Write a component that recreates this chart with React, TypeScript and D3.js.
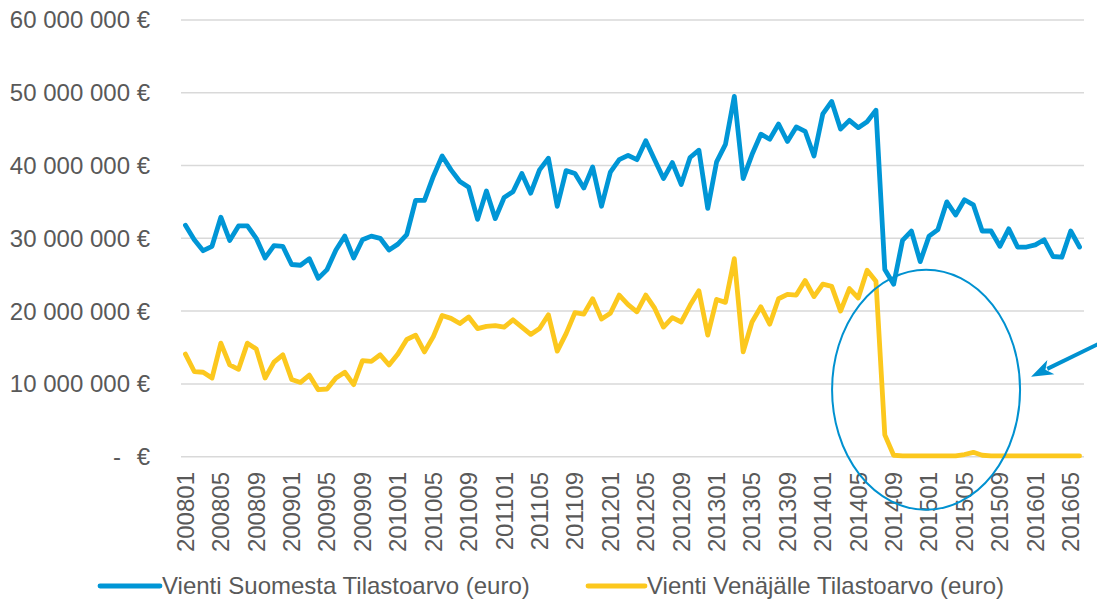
import { useEffect, useRef } from 'react';
import * as d3 from 'd3';

// months 200801 .. 201606
const months: string[] = [];
for (let yr = 2008; yr <= 2016; yr++) {
    for (let m = 1; m <= 12; m++) {
        if (yr === 2016 && m > 6) break;
        months.push(yr + (m < 10 ? "0" : "") + m);
    }
}

// values in millions of euros
const suomesta_millions = [
    31.8, 29.8, 28.3, 28.9, 32.9, 29.7, 31.7, 31.7, 30.0, 27.3, 29.0, 28.9,
    26.4, 26.3, 27.2, 24.5, 25.7, 28.4, 30.3, 27.3, 29.8, 30.3, 30.0, 28.4,
    29.2, 30.5, 35.2, 35.2, 38.5, 41.3, 39.4, 37.8, 37.0, 32.6, 36.5, 32.7,
    35.6, 36.4, 38.9, 36.2, 39.4, 41.0, 34.4, 39.3, 38.9, 36.9, 39.8, 34.4,
    39.1, 40.8, 41.4, 40.8, 43.4, 40.8, 38.2, 40.4, 37.4, 41.1, 42.1, 34.1,
    40.5, 42.9, 49.5, 38.2, 41.5, 44.3, 43.6, 45.7, 43.3, 45.3, 44.7, 41.3,
    47.1, 48.8, 45.0, 46.2, 45.2, 46.0, 47.6, 25.7, 23.7, 29.7, 31.0, 26.8,
    30.3, 31.2, 35.0, 33.2, 35.3, 34.6, 31.0, 31.0, 28.9, 31.3, 28.8, 28.8,
    29.1, 29.8, 27.5, 27.4, 31.0, 28.8
];

const venajalle_millions = [
    14.1, 11.7, 11.6, 10.8, 15.6, 12.6, 12.0, 15.6, 14.8, 10.8, 13.0, 14.0,
    10.6, 10.2, 11.2, 9.2, 9.3, 10.8, 11.6, 9.9, 13.2, 13.1, 14.0, 12.6,
    14.1, 16.1, 16.7, 14.4, 16.5, 19.4, 19.0, 18.3, 19.2, 17.6, 17.9, 18.0,
    17.8, 18.8, 17.8, 16.8, 17.6, 19.5, 14.5, 16.9, 19.8, 19.6, 21.7, 18.9,
    19.7, 22.2, 20.9, 19.9, 22.2, 20.4, 17.8, 19.1, 18.5, 20.8, 22.8, 16.7,
    21.6, 21.2, 27.2, 14.4, 18.5, 20.6, 18.2, 21.7, 22.3, 22.2, 24.2, 22.0,
    23.7, 23.4, 20.0, 23.1, 21.8, 25.6, 24.1, 3.0, 0.2, 0.1, 0.1, 0.1,
    0.1, 0.1, 0.1, 0.1, 0.3, 0.6, 0.2, 0.1, 0.1, 0.1, 0.1, 0.1,
    0.1, 0.1, 0.1, 0.1, 0.1, 0.1
];

const y_ticks = [0, 10e6, 20e6, 30e6, 40e6, 50e6, 60e6];
const series_names = ["Vienti Suomesta Tilastoarvo (euro)", "Vienti Venäjälle Tilastoarvo (euro)"];
const series_colors = ["#0096D6", "#FCC81E"];

export default function App() {
    const ref = useRef<SVGSVGElement>(null);

    useEffect(() => {
        const font = "'Liberation Sans', Arial, sans-serif";
        const text_color = "#595959";
        const font_size = 24;

        const svg = d3.select(ref.current);
        svg.selectAll("*").remove();

        // scales
        const x_scale = d3.scaleBand<string>()
            .domain(months)
            .range([181, 1084])
            .padding(0);
        const xc = (m: string) => (x_scale(m) as number) + x_scale.bandwidth() / 2;

        const y_scale = d3.scaleLinear()
            .domain([0, 60e6])
            .range([456.7, 19.9]);

        // gridlines
        svg.append("g")
            .selectAll("line")
            .data(y_ticks).enter()
            .append("line")
            .attr("x1", 181)
            .attr("x2", 1084)
            .attr("y1", d => y_scale(d))
            .attr("y2", d => y_scale(d))
            .attr("stroke", "#D9D9D9")
            .attr("stroke-width", 1.5);

        // y labels
        const locale = d3.formatLocale({ decimal: ",", thousands: " ", grouping: [3], currency: ["", " €"] });
        const fmt = locale.format(",.0f");
        const y_labels = svg.append("g")
            .attr("font-family", font)
            .attr("font-size", font_size)
            .attr("fill", text_color);
        y_ticks.forEach(function(d) {
            if (d === 0) {
                y_labels.append("text")
                    .attr("x", 117)
                    .attr("y", y_scale(d))
                    .attr("dy", "0.35em")
                    .attr("text-anchor", "middle")
                    .text("-");
                y_labels.append("text")
                    .attr("x", 150)
                    .attr("y", y_scale(d))
                    .attr("dy", "0.35em")
                    .attr("text-anchor", "end")
                    .text("€");
            } else {
                y_labels.append("text")
                    .attr("x", 150)
                    .attr("y", y_scale(d))
                    .attr("dy", "0.35em")
                    .attr("text-anchor", "end")
                    .text(fmt(d) + " €");
            }
        });

        // x labels, every fourth month
        svg.append("g")
            .attr("font-family", font)
            .attr("font-size", font_size)
            .attr("fill", text_color)
            .selectAll("text")
            .data(months.filter((m, i) => i % 4 === 0)).enter()
            .append("text")
            .attr("transform", d => "translate(" + xc(d) + ",472) rotate(-90)")
            .attr("dy", "0.35em")
            .attr("text-anchor", "end")
            .text(d => d);

        // lines
        const all_series = [suomesta_millions, venajalle_millions];
        all_series.forEach(function(values, s) {
            const line = d3.line<number>()
                .x((v, i) => xc(months[i]))
                .y(v => y_scale(v * 1e6))
                .curve(d3.curveLinear);
            svg.append("path")
                .datum(values)
                .attr("d", line)
                .attr("fill", "none")
                .attr("stroke", series_colors[s])
                .attr("stroke-width", 4.8)
                .attr("stroke-linejoin", "round")
                .attr("stroke-linecap", "round");
        });

        // annotation: ellipse + arrow
        const cx = xc("201501") - 3;
        const cy = y_scale(9.2e6);
        svg.append("ellipse")
            .attr("cx", cx)
            .attr("cy", cy)
            .attr("rx", 94)
            .attr("ry", 120)
            .attr("fill", "none")
            .attr("stroke", "#0091D0")
            .attr("stroke-width", 2);

        const tip: [number, number] = [cx + 105, cy - 13];
        const start: [number, number] = [1105, cy - 49];
        const dx = tip[0] - start[0];
        const dy = tip[1] - start[1];
        const len = Math.sqrt(dx * dx + dy * dy);
        const ux = dx / len, uy = dy / len;
        const head_len = 22, head_w = 16;
        const base: [number, number] = [tip[0] - ux * head_len, tip[1] - uy * head_len];
        svg.append("line")
            .attr("x1", start[0]).attr("y1", start[1])
            .attr("x2", base[0] + ux * 4).attr("y2", base[1] + uy * 4)
            .attr("stroke", "#0091D0")
            .attr("stroke-width", 4);
        svg.append("path")
            .attr("d", "M" + tip[0] + "," + tip[1]
                + "L" + (base[0] - uy * head_w / 2) + "," + (base[1] + ux * head_w / 2)
                + "L" + (base[0] + ux * 6) + "," + (base[1] + uy * 6)
                + "L" + (base[0] + uy * head_w / 2) + "," + (base[1] - ux * head_w / 2) + "Z")
            .attr("fill", "#0091D0");

        // legend
        const legend_y = 586;
        const legend_items = [
            { x1: 100, x2: 160 },
            { x1: 588, x2: 645 }
        ];
        legend_items.forEach(function(item, s) {
            svg.append("line")
                .attr("x1", item.x1).attr("x2", item.x2)
                .attr("y1", legend_y).attr("y2", legend_y)
                .attr("stroke", series_colors[s])
                .attr("stroke-width", 4.8)
                .attr("stroke-linecap", "round");
            svg.append("text")
                .attr("x", item.x2 + 2)
                .attr("y", legend_y)
                .attr("dy", "0.35em")
                .attr("font-family", font)
                .attr("font-size", font_size)
                .attr("fill", text_color)
                .text(series_names[s]);
        });
    }, []);

    return (
        <svg ref={ref} width={1097} height={603}
            style={{ position: "absolute", left: 0, top: 0, background: "#fff" }} />
    );
}
